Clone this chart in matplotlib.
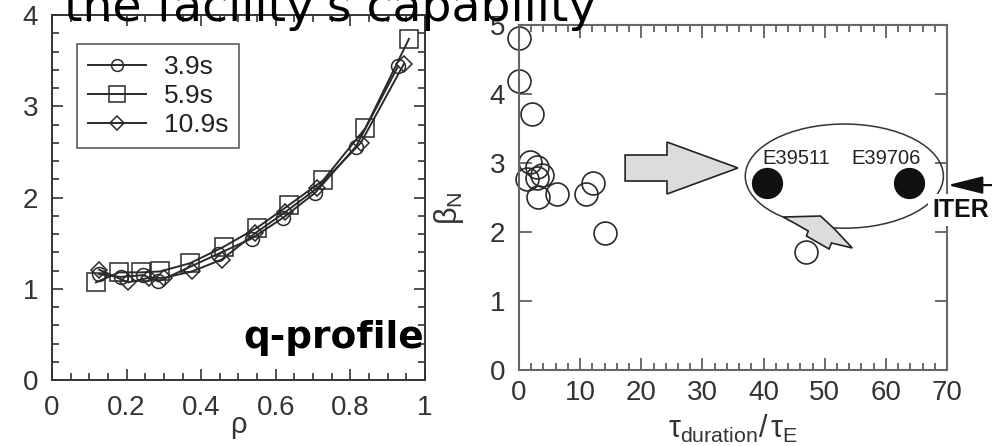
import matplotlib
matplotlib.use("Agg")
import matplotlib.pyplot as plt
from matplotlib.patches import Ellipse, Polygon
from matplotlib.ticker import MultipleLocator

plt.rcParams['font.family'] = ['Liberation Sans', 'DejaVu Sans']
# upright greek letters in the axis labels
plt.rcParams['mathtext.fontset'] = 'custom'
plt.rcParams['mathtext.rm'] = 'Liberation Sans'
plt.rcParams['mathtext.it'] = 'Liberation Sans'
plt.rcParams['mathtext.sf'] = 'Liberation Sans'

# q-profile at three times
rho_39 = [0.125, 0.185, 0.245, 0.285, 0.444, 0.535, 0.62, 0.705, 0.815, 0.928]
q_39 = [1.16, 1.13, 1.15, 1.08, 1.38, 1.55, 1.78, 2.05, 2.56, 3.44]
rho_59 = [0.118, 0.18, 0.24, 0.29, 0.37, 0.46, 0.55, 0.636, 0.727, 0.84, 0.957]
q_59 = [1.07, 1.18, 1.18, 1.19, 1.28, 1.46, 1.67, 1.92, 2.19, 2.76, 3.74]
rho_109 = [0.126, 0.204, 0.26, 0.30, 0.375, 0.455, 0.545, 0.625, 0.71, 0.828, 0.944]
q_109 = [1.21, 1.07, 1.12, 1.12, 1.19, 1.32, 1.61, 1.84, 2.1, 2.6, 3.47]

# beta_N against discharge duration
tau_open = [0, 0, 2.1, 1.8, 2.9, 3.7, 1.3, 3.0, 3.1, 6.2, 11.0, 12.1, 14.1, 47.0]
beta_open = [4.81, 4.19, 3.71, 3.01, 2.94, 2.83, 2.77, 2.78, 2.51, 2.55, 2.55, 2.71, 1.98, 1.71]
shots = ['E39511', 'E39706']
tau_shot = [40.6, 63.7]
beta_shot = [2.71, 2.71]
shot_label_pos = [(45.3, 3.06), (60.1, 3.06)]

fig = plt.figure(figsize=(9.92, 4.46), dpi=100)
ax1 = fig.add_axes([0.0524, 0.148, 0.376, 0.818])
ax2 = fig.add_axes([0.5232, 0.1704, 0.4315, 0.7735])

ink = '#2a2a2a'

# left panel
ax1.plot(rho_39, q_39, '-o', color=ink, lw=1.4, ms=10, mfc='none', mew=1.1, label='3.9s')
ax1.plot(rho_59, q_59, '-s', color=ink, lw=1.4, ms=13, mfc='none', mew=1.1, label='5.9s')
ax1.plot(rho_109, q_109, '-D', color=ink, lw=1.4, ms=8, mfc='none', mew=1.1, label='10.9s')
ax1.set_xlim(0, 1)
ax1.set_ylim(0, 4)
ax1.set_xticks([0, 0.2, 0.4, 0.6, 0.8, 1])
ax1.set_xticklabels(['0', '0.2', '0.4', '0.6', '0.8', '1'])
ax1.xaxis.set_minor_locator(MultipleLocator(0.05))
ax1.set_yticks([0, 1, 2, 3, 4])
ax1.yaxis.set_minor_locator(MultipleLocator(0.2))
ax1.tick_params(which='both', direction='in', top=True, right=True, color='#333', width=1.2)
ax1.tick_params(which='major', length=8, labelsize=20, labelcolor='#333')
ax1.tick_params(which='minor', length=5)
ax1.tick_params(axis='x', pad=11)
ax1.tick_params(axis='y', pad=10)
for s in ax1.spines.values():
    s.set_color('#333')
    s.set_linewidth(1.4)
ax1.set_xlabel(r'$\rho$', fontsize=21, color='#333')
ax1.xaxis.set_label_coords(0.5, -0.09)
leg = ax1.legend(loc='upper left', bbox_to_anchor=(0.067, 0.92), borderaxespad=0,
                 fontsize=19, fancybox=False, edgecolor='#333', handlelength=2.2,
                 handletextpad=0.7, labelspacing=0.2, borderpad=0.4, markerscale=0.85)
leg.get_frame().set_linewidth(1.2)
for t in leg.get_texts():
    t.set_color('#222')

# right panel
ax2.plot(tau_open, beta_open, 'o', ms=16.5, mfc='none', mec=ink, mew=1.2, clip_on=False)
ax2.plot(tau_shot, beta_shot, 'o', ms=21.5, color='#111', zorder=5)
for name, (lx, ly) in zip(shots, shot_label_pos):
    ax2.text(lx, ly, name, fontsize=14.5, color='#222', ha='center', va='center')

ax2.add_patch(Ellipse((53.2, 2.81), 32.4, 1.51, fill=False, edgecolor='#333', lw=1.1, zorder=3))

# block arrow toward the long pulses
ax2.add_patch(Polygon([(17.35, 3.116), (24.2, 3.116), (24.2, 3.304), (35.8, 2.928),
                       (24.2, 2.551), (24.2, 2.739), (17.35, 2.739)],
                      closed=True, facecolor='#dcdcdc', edgecolor='#222', lw=1.2, zorder=4))
# zigzag arrow toward the low beta point
ax2.add_patch(Polygon([(43.2, 2.217), (49.3, 2.232), (51.6, 2.043), (54.5, 1.768),
                       (51.1, 1.841), (50.7, 1.754), (47.0, 1.942), (47.3, 2.014),
                       (45.3, 2.116)],
                      closed=True, facecolor='#dcdcdc', edgecolor='#222', lw=1.2, zorder=4))

ax2.annotate('', xy=(70.1, 2.68), xytext=(77.8, 2.68), annotation_clip=False,
             arrowprops=dict(arrowstyle='-|>,head_length=1.2,head_width=0.3',
                             mutation_scale=18, color='#111', lw=1.6, shrinkA=0, shrinkB=0))
ax2.text(67.6, 2.32, 'ITER', fontsize=18, fontweight='bold', color='#111', va='center',
         ha='left', clip_on=False, zorder=6,
         bbox=dict(facecolor='white', edgecolor='none', pad=3))

ax2.set_xlim(0, 70)
ax2.set_ylim(0, 5)
ax2.set_xticks(range(0, 71, 10))
ax2.xaxis.set_minor_locator(MultipleLocator(2))
ax2.set_yticks([0, 1, 2, 3, 4, 5])
ax2.tick_params(which='both', direction='in', top=True, right=True, color='#444', width=1.1)
ax2.tick_params(which='major', length=9, labelsize=20, labelcolor='#333')
ax2.tick_params(which='minor', length=5)
ax2.tick_params(axis='x', pad=7)
ax2.tick_params(axis='y', pad=10)
for s in ax2.spines.values():
    s.set_color('#666')
    s.set_linewidth(1.5)
ax2.set_xlabel(r'$\tau_{duration}/\,\tau_{E}$', fontsize=22, color='#333')
ax2.xaxis.set_label_coords(0.5, -0.125)
ax2.set_ylabel(r'$\beta_{N}$', fontsize=22, color='#333')
ax2.yaxis.set_label_coords(-0.125, 0.47)

# overlaid captions
fig.text(64 / 992, 1 - 21 / 446, "the facility's capability", fontsize=34,
         family='DejaVu Sans', va='baseline', ha='left', color='black')
fig.text(243 / 992, (446 - 348) / 446, 'q-profile', fontsize=27, fontweight='bold',
         family='DejaVu Sans', va='baseline', ha='left', color='black', zorder=10)

fig.savefig('out.png', dpi=100)
